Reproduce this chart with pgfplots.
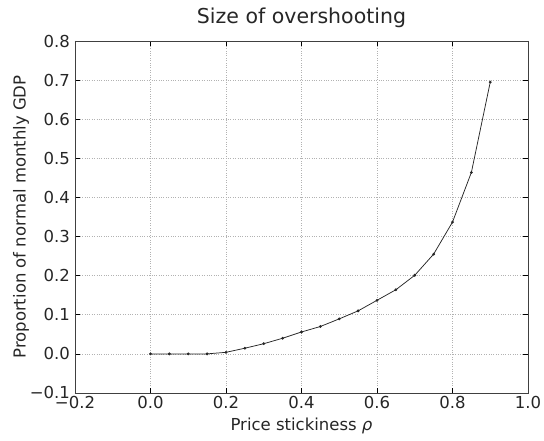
\documentclass[border=0pt]{standalone}
\usepackage{fontspec}
\setmainfont{DejaVu Sans}
\usepackage{pgfplots}
\pgfplotsset{compat=1.18}

\begin{document}
\begin{tikzpicture}
\begin{axis}[
  name=ax,
  scale only axis,
  width=453bp, height=352bp,
  xmin=-0.2, xmax=1.0, ymin=-0.1, ymax=0.8,
  xtick={-0.2,0,0.2,0.4,0.6,0.8,1.0},
  xticklabels={−0.2,0.0,0.2,0.4,0.6,0.8,1.0},
  ytick={-0.1,0,0.1,0.2,0.3,0.4,0.5,0.6,0.7,0.8},
  yticklabels={−0.1,0.0,0.1,0.2,0.3,0.4,0.5,0.6,0.7,0.8},
  tick align=inside, major tick length=5bp,
  tick style={black, line width=0.6pt},
  axis line style={black!75, line width=0.9pt},
  grid=major, grid style={dotted, gray!60, line width=0.6pt},
  tick label style={font=\fontsize{16.5bp}{19bp}\selectfont, text=black!85},
  yticklabel style={xshift=-1.5bp},
  label style={font=\fontsize{16.5bp}{19bp}\selectfont, text=black!85},
  title style={font=\fontsize{20.5bp}{24bp}\selectfont, text=black!85, yshift=4bp},
  title={Size of overshooting},
  xlabel={Price stickiness {\itshape ρ}},
  ylabel={Proportion of normal monthly GDP},
  xlabel style={yshift=-2bp},
  ylabel style={yshift=-6bp},
]
\addplot[black!85, line width=0.75pt, mark=*, mark size=1pt] coordinates {
  (0.00,0.000) (0.05,0.000) (0.10,0.000) (0.15,0.000) (0.20,0.004)
  (0.25,0.0145) (0.30,0.026) (0.35,0.040) (0.40,0.056) (0.45,0.070)
  (0.50,0.0895) (0.55,0.110) (0.60,0.137) (0.65,0.164) (0.70,0.201)
  (0.75,0.255) (0.80,0.337) (0.85,0.464) (0.90,0.695)
};
\end{axis}
\pgfresetboundingbox
\path ([shift={(-75bp,-48bp)}]ax.south west) rectangle ([shift={(16bp,41bp)}]ax.north east);
\end{tikzpicture}
\end{document}
